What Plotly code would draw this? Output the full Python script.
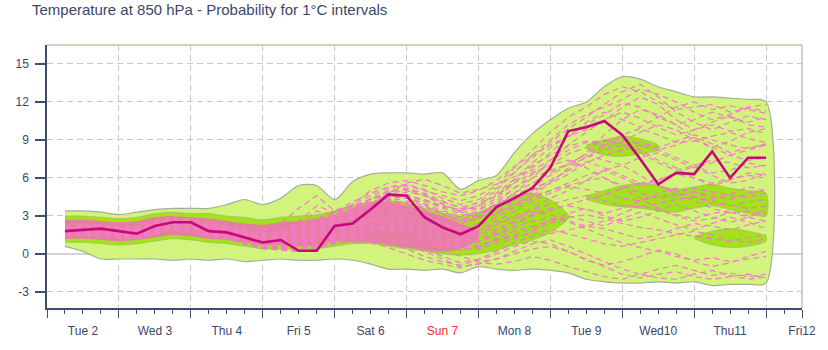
import plotly.graph_objects as go

TITLE = "Temperature at 850 hPa - Probability for 1°C intervals"

hours = [6, 12, 18, 24, 30, 36, 42, 48, 54, 60, 66, 72, 78, 84, 90, 96, 102, 108, 114, 120,
         126, 132, 138, 144, 150, 156, 162, 168, 174, 180, 186, 192, 198, 204, 210, 216, 222, 228, 234, 240]

main_run = [1.8, 1.9, 2.0, 1.8, 1.6, 2.2, 2.5, 2.5, 1.8, 1.7,
            1.3, 0.9, 1.1, 0.25, 0.25, 2.2, 2.4, 3.5, 4.7, 4.6,
            2.9, 2.1, 1.55, 2.2, 3.7, 4.4, 5.2, 6.8, 9.7, 10.0,
            10.5, 9.4, 7.5, 5.5, 6.4, 6.3, 8.1, 6.0, 7.6, 7.6]

env_upper = [3.4, 3.4, 3.3, 3.1, 3.3, 3.5, 3.6, 3.6, 3.6, 3.9,
             4.3, 3.9, 4.4, 5.4, 5.4, 4.3, 5.7, 6.3, 6.4, 6.4,
             6.3, 6.4, 5.1, 5.8, 6.2, 8.0, 9.5, 10.6, 11.5, 12.0,
             13.2, 14.0, 13.8, 13.2, 12.8, 12.4, 12.4, 12.3, 12.2, 12.0]
env_lower = [0.6, 0.2, -0.4, -0.4, -0.4, -0.4, -0.5, -0.4, -0.5, -0.4,
             -0.6, -0.5, -0.4, -0.5, -0.5, -0.4, -0.5, -0.8, -1.2, -1.2,
             -1.3, -1.2, -1.5, -1.0, -1.2, -1.3, -1.2, -1.3, -1.5, -2.0,
             -2.2, -2.3, -2.3, -2.2, -2.3, -2.2, -2.5, -2.4, -2.4, -2.3]

core_hours = [6, 12, 18, 24, 30, 36, 42, 48, 54, 60, 66, 72, 78, 84,
              90, 96, 102, 108, 114, 120, 126, 132, 138, 144, 150, 156, 162, 168, 174]
core_lower = [0.9, 0.9, 0.8, 0.7, 0.8, 1.0, 1.2, 1.1, 0.9, 0.8, 0.6, 0.4, 0.4, 0.3,
              0.4, 0.6, 0.8, 0.8, 0.6, 0.4, 0.2, 0.0, -0.1, 0.0, 0.3, 0.7, 1.1, 1.7, 2.8]
core_upper = [3.0, 3.0, 2.9, 2.8, 2.9, 3.2, 3.3, 3.2, 3.2, 3.0, 2.9, 2.7, 2.9, 3.0,
              3.1, 3.4, 3.8, 4.1, 4.2, 4.0, 3.6, 3.2, 3.0, 3.3, 3.9, 4.5, 4.8, 4.3, 3.1]

blob_b_hours = [180, 186, 192, 198, 204]
blob_b_lower = [8.3, 7.8, 7.7, 7.9, 8.2]
blob_b_upper = [8.6, 9.0, 9.3, 9.1, 8.6]

blob_c_hours = [180, 186, 192, 198, 204, 210, 216, 222, 228, 234, 240]
blob_c_lower = [4.3, 3.9, 3.7, 3.6, 3.4, 3.3, 3.6, 3.8, 3.5, 3.2, 3.0]
blob_c_upper = [4.6, 5.0, 5.4, 5.6, 5.4, 5.1, 5.3, 5.5, 5.2, 5.0, 4.8]

blob_d_hours = [216, 222, 228, 234, 240]
blob_d_lower = [1.2, 0.7, 0.5, 0.6, 1.0]
blob_d_upper = [1.4, 1.8, 2.0, 1.8, 1.4]

pink_hours = [6, 12, 18, 24, 30, 36, 42, 48, 54, 60, 66, 72,
              78, 84, 90, 96, 102, 108, 114, 120, 126, 132, 138, 144]
pink_lower = [1.2, 1.2, 1.1, 1.0, 1.1, 1.3, 1.5, 1.4, 1.2, 1.1, 0.9, 0.7,
              0.7, 0.6, 0.7, 1.0, 0.9, 0.9, 0.7, 0.5, 0.3, 0.2, 0.4, 1.2]
pink_upper = [2.7, 2.7, 2.6, 2.5, 2.6, 2.9, 3.0, 2.9, 2.8, 2.6, 2.4, 2.3,
              2.5, 2.6, 2.8, 3.0, 3.6, 4.0, 4.1, 3.8, 3.4, 3.0, 2.4, 1.8]

member_01 = [1.9, 2.0, 2.1, 1.9, 1.8, 2.3, 2.6, 2.7, 2.4, 2.2, 1.9, 1.6, 1.8, 2.2, 2.8, 3.3, 3.9, 4.6, 5.2, 5.4,
             5.0, 4.6, 4.2, 4.6, 5.4, 6.8, 8.2, 9.6, 10.8, 11.6, 12.6, 13.2, 12.8, 12.0, 11.4, 11.6, 11.8, 11.2, 11.5, 11.3]
member_02 = [1.7, 1.8, 1.8, 1.6, 1.5, 2.0, 2.3, 2.2, 1.8, 1.6, 1.2, 0.9, 1.0, 1.4, 2.0, 2.6, 3.2, 3.8, 4.4, 4.9,
             4.6, 3.9, 3.4, 3.8, 4.8, 5.9, 7.2, 8.4, 9.3, 9.8, 10.4, 11.6, 12.4, 11.8, 10.6, 9.8, 10.4, 10.9, 10.2, 10.0]
member_03 = [2.2, 2.3, 2.3, 2.1, 2.2, 2.6, 2.9, 2.8, 2.5, 2.4, 2.2, 1.9, 2.4, 3.6, 4.6, 3.4, 3.8, 4.0, 4.3, 4.6,
             4.2, 3.6, 3.2, 3.6, 4.4, 5.6, 6.4, 7.0, 7.9, 8.4, 8.9, 9.2, 8.6, 8.2, 8.6, 9.2, 8.7, 8.0, 8.4, 8.6]
member_04 = [1.5, 1.6, 1.6, 1.4, 1.4, 1.9, 2.1, 2.0, 1.7, 1.5, 1.1, 0.8, 0.7, 0.8, 1.2, 1.9, 2.6, 3.4, 3.9, 4.1,
             3.5, 2.8, 2.3, 2.9, 3.8, 4.6, 5.1, 5.8, 6.6, 7.7, 8.4, 8.8, 8.2, 7.4, 6.8, 6.0, 5.4, 5.8, 6.4, 6.2]
member_05 = [2.0, 2.1, 2.2, 2.0, 1.9, 2.4, 2.7, 2.6, 2.2, 2.0, 1.7, 1.3, 1.5, 1.9, 2.1, 2.6, 3.0, 3.3, 3.5, 3.6,
             3.1, 2.5, 2.0, 2.4, 3.2, 4.0, 4.6, 5.0, 5.4, 5.8, 6.0, 5.4, 4.8, 4.4, 4.6, 4.9, 4.6, 4.3, 4.8, 5.0]
member_06 = [1.6, 1.7, 1.7, 1.5, 1.4, 1.8, 2.0, 2.0, 1.6, 1.4, 1.0, 0.6, 0.5, 0.3, 0.4, 1.2, 2.0, 2.6, 3.0, 3.2,
             2.6, 1.9, 1.4, 1.8, 2.4, 3.0, 3.5, 3.9, 4.3, 4.6, 4.2, 3.8, 3.7, 4.0, 4.3, 4.5, 4.0, 3.8, 4.1, 4.3]
member_07 = [1.8, 1.9, 1.9, 1.7, 1.6, 2.1, 2.4, 2.4, 2.0, 1.8, 1.4, 1.1, 1.1, 1.2, 1.6, 2.2, 2.5, 2.8, 2.9, 2.8,
             2.3, 1.6, 1.0, 1.4, 2.0, 2.5, 3.1, 3.6, 3.8, 3.5, 3.2, 3.6, 4.2, 4.8, 5.2, 4.9, 4.4, 4.7, 5.3, 5.0]
member_08 = [1.4, 1.5, 1.4, 1.2, 1.2, 1.6, 1.9, 1.8, 1.4, 1.2, 0.8, 0.4, 0.3, 0.2, 0.5, 1.0, 1.5, 1.9, 2.1, 2.0,
             1.4, 0.8, 0.3, 0.6, 1.2, 1.8, 2.2, 2.6, 2.9, 3.1, 2.8, 2.4, 2.1, 1.9, 1.6, 1.4, 1.2, 1.0, 1.3, 1.5]
member_09 = [2.1, 2.2, 2.2, 2.0, 2.0, 2.5, 2.8, 2.8, 2.4, 2.2, 1.9, 1.6, 1.8, 2.0, 2.4, 3.0, 3.6, 4.4, 5.0, 5.2,
             4.8, 4.2, 3.6, 3.6, 3.8, 4.2, 4.9, 5.6, 6.3, 7.2, 7.8, 8.2, 8.6, 8.2, 7.6, 7.0, 6.4, 6.6, 7.2, 6.9]
member_10 = [1.7, 1.8, 1.9, 1.7, 1.6, 2.0, 2.3, 2.3, 1.9, 1.7, 1.3, 1.0, 0.9, 0.6, 0.8, 1.3, 1.7, 2.1, 2.3, 2.2,
             1.6, 0.9, 0.5, 0.7, 1.0, 1.4, 1.6, 1.9, 1.6, 1.2, 0.8, 0.6, 0.9, 1.2, 1.5, 1.8, 1.5, 1.1, 0.9, 1.2]
member_11 = [1.5, 1.6, 1.7, 1.5, 1.4, 1.8, 2.1, 2.1, 1.7, 1.5, 1.2, 0.8, 0.7, 0.6, 0.9, 1.4, 1.8, 2.0, 1.9, 1.6,
             1.0, 0.4, -0.2, -0.6, -0.4, 0.2, 0.8, 1.1, 0.6, 0.0, -0.6, -1.2, -1.6, -1.2, -0.9, -1.3, -1.7, -1.5, -1.8, -1.6]
member_12 = [1.9, 2.0, 2.0, 1.8, 1.8, 2.2, 2.5, 2.5, 2.1, 1.9, 1.6, 1.2, 1.3, 1.6, 2.0, 2.4, 2.8, 3.2, 3.6, 3.9,
             3.7, 3.3, 2.9, 3.2, 3.9, 4.6, 5.3, 6.2, 7.1, 7.9, 8.6, 9.4, 9.9, 9.4, 8.8, 8.9, 9.3, 9.6, 9.1, 8.8]
member_13 = [1.6, 1.7, 1.8, 1.6, 1.5, 1.9, 2.2, 2.1, 1.7, 1.6, 1.2, 0.9, 0.8, 0.9, 1.3, 1.9, 2.3, 2.6, 2.6, 2.4,
             1.8, 1.3, 0.9, 1.0, 1.6, 2.3, 3.0, 3.4, 3.9, 4.3, 4.7, 5.2, 5.6, 5.4, 5.0, 4.5, 4.2, 3.9, 3.6, 3.8]
member_14 = [2.0, 2.1, 2.1, 1.9, 1.8, 2.3, 2.6, 2.6, 2.2, 2.1, 1.8, 1.4, 1.6, 2.6, 3.8, 3.3, 3.9, 5.0, 5.6, 5.8,
             5.4, 4.9, 4.6, 5.0, 5.8, 6.9, 7.8, 8.6, 9.3, 10.2, 11.0, 11.9, 11.6, 10.8, 10.2, 10.6, 11.2, 10.8, 10.4, 10.8]
member_15 = [1.4, 1.5, 1.5, 1.3, 1.3, 1.7, 2.0, 1.9, 1.5, 1.3, 1.0, 0.6, 0.4, 0.4, 0.6, 1.1, 1.5, 1.6, 1.3, 0.9,
             0.4, -0.2, -0.7, -0.4, 0.2, 0.9, 1.4, 1.6, 1.9, 2.2, 2.0, 1.6, 1.2, 1.5, 2.0, 2.4, 2.2, 1.9, 2.3, 2.6]
member_16 = [1.8, 1.9, 2.0, 1.8, 1.7, 2.2, 2.5, 2.4, 2.0, 1.9, 1.5, 1.1, 1.2, 1.4, 1.8, 2.3, 2.9, 3.6, 4.2, 4.4,
             3.9, 3.2, 2.6, 2.8, 3.4, 4.2, 5.0, 5.8, 6.6, 7.3, 6.8, 6.2, 5.6, 5.9, 6.3, 6.0, 5.6, 5.9, 6.2, 6.0]
member_17 = [1.7, 1.8, 1.8, 1.6, 1.5, 2.0, 2.2, 2.2, 1.8, 1.7, 1.3, 1.0, 0.9, 1.0, 1.4, 1.8, 2.0, 2.1, 2.0, 1.8,
             1.3, 0.8, 0.3, 0.5, 1.1, 1.5, 2.0, 2.6, 3.2, 3.6, 3.0, 2.6, 2.9, 3.4, 3.1, 2.8, 3.2, 3.4, 3.0, 3.2]
member_18 = [1.9, 2.0, 2.1, 1.9, 1.9, 2.3, 2.6, 2.6, 2.3, 2.1, 1.7, 1.4, 1.5, 1.7, 2.1, 2.7, 3.4, 4.0, 4.3, 4.0,
             3.4, 2.8, 2.4, 2.8, 3.6, 4.8, 6.0, 7.4, 8.6, 9.6, 10.6, 11.2, 10.7, 10.0, 9.4, 9.8, 10.2, 9.7, 9.9, 9.5]
member_19 = [1.6, 1.7, 1.7, 1.5, 1.4, 1.9, 2.1, 2.1, 1.7, 1.5, 1.1, 0.8, 0.6, 0.5, 0.7, 1.2, 1.6, 2.0, 2.2, 2.1,
             1.6, 1.0, 0.6, 0.9, 1.5, 2.1, 2.6, 2.8, 2.5, 2.0, 1.4, 0.9, 0.5, 0.2, -0.2, -0.5, -0.3, -0.6, -0.4, -0.2]
member_20 = [2.1, 2.2, 2.3, 2.1, 2.0, 2.5, 2.8, 2.7, 2.3, 2.2, 1.9, 1.5, 1.7, 2.1, 2.6, 3.2, 3.8, 4.3, 4.6, 4.5,
             4.0, 3.4, 3.0, 3.4, 4.2, 5.2, 6.0, 6.6, 7.0, 7.6, 8.2, 8.6, 8.8, 8.4, 8.9, 9.4, 9.0, 8.6, 8.3, 8.7]
member_21 = [1.8, 1.9, 1.9, 1.7, 1.7, 2.1, 2.4, 2.3, 1.9, 1.8, 1.4, 1.1, 1.0, 1.1, 1.5, 2.0, 2.4, 2.7, 3.0, 3.0,
             2.5, 1.9, 1.5, 1.9, 2.6, 3.4, 4.2, 4.8, 5.3, 5.1, 4.8, 4.4, 4.2, 4.5, 4.8, 5.2, 4.9, 4.6, 4.5, 4.8]
member_22 = [1.5, 1.6, 1.6, 1.4, 1.4, 1.8, 2.0, 1.9, 1.6, 1.4, 1.0, 0.7, 0.5, 0.4, 0.6, 1.0, 1.3, 1.4, 1.2, 0.8,
             0.2, -0.4, -1.0, -0.8, -0.4, 0.0, 0.4, 0.6, 0.2, -0.4, -1.0, -1.6, -1.9, -1.6, -1.4, -1.8, -2.0, -1.8, -1.6, -1.9]
member_23 = [2.0, 2.1, 2.2, 2.0, 1.9, 2.4, 2.7, 2.7, 2.3, 2.1, 1.8, 1.5, 1.6, 2.3, 3.4, 3.0, 3.6, 3.9, 4.8, 5.6,
             5.9, 5.4, 4.8, 5.1, 5.5, 6.1, 6.6, 7.4, 8.2, 8.8, 9.0, 8.6, 8.0, 7.2, 6.6, 7.0, 7.4, 7.2, 6.8, 7.0]
member_24 = [1.7, 1.8, 1.8, 1.6, 1.6, 2.0, 2.3, 2.2, 1.8, 1.7, 1.3, 0.9, 0.8, 0.7, 1.0, 1.5, 1.9, 2.3, 2.5, 2.4,
             1.9, 1.2, 0.7, 1.1, 1.8, 2.6, 3.6, 4.4, 5.0, 5.8, 6.6, 7.0, 6.2, 5.4, 4.8, 4.2, 3.6, 3.2, 3.4, 3.1]
member_25 = [1.8, 1.9, 2.0, 1.8, 1.7, 2.1, 2.4, 2.4, 2.1, 1.9, 1.5, 1.2, 1.3, 1.6, 2.2, 2.8, 3.3, 3.9, 4.4, 4.6,
             4.3, 3.8, 3.5, 4.1, 5.0, 6.4, 7.8, 9.0, 10.2, 11.0, 11.6, 12.2, 13.0, 12.6, 12.0, 11.2, 10.6, 11.0, 11.6, 11.8]
member_26 = [1.7, 1.8, 1.9, 1.7, 1.6, 2.1, 2.4, 2.3, 1.9, 1.8, 1.4, 1.0, 1.2, 1.5, 1.9, 2.5, 3.0, 3.5, 3.8, 3.9,
             3.4, 2.9, 2.6, 3.0, 3.9, 4.8, 5.6, 6.4, 7.2, 7.8, 7.4, 7.0, 7.6, 8.0, 7.4, 6.8, 7.2, 7.8, 7.4, 7.6]
member_27 = [1.9, 2.0, 2.0, 1.8, 1.7, 2.2, 2.5, 2.5, 2.1, 2.0, 1.6, 1.3, 1.4, 1.7, 2.2, 2.8, 3.5, 4.3, 4.9, 5.1,
             4.7, 4.0, 3.3, 3.0, 3.2, 3.8, 4.6, 5.6, 6.8, 8.0, 9.4, 10.6, 11.4, 11.0, 10.2, 9.2, 8.4, 7.8, 8.2, 8.6]
member_28 = [1.5, 1.6, 1.6, 1.4, 1.3, 1.8, 2.0, 1.9, 1.5, 1.3, 0.9, 0.6, 0.5, 0.3, 0.5, 0.9, 1.2, 1.1, 0.8, 0.4,
             -0.2, -0.6, -0.9, -0.5, 0.0, 0.6, 1.0, 0.8, 0.2, -0.5, -0.9, -0.6, -0.2, 0.3, 0.0, -0.6, -1.0, -0.7, -0.2, 0.2]
member_29 = [2.0, 2.1, 2.1, 1.9, 1.8, 2.3, 2.6, 2.6, 2.2, 2.0, 1.7, 1.3, 1.4, 1.8, 2.3, 2.9, 3.3, 3.7, 4.0, 4.2,
             3.8, 3.1, 2.7, 3.1, 4.0, 5.2, 6.3, 7.0, 7.4, 6.8, 6.0, 5.2, 4.4, 3.6, 3.0, 2.6, 2.8, 3.3, 2.9, 2.6]
member_30 = [1.6, 1.7, 1.7, 1.5, 1.5, 1.9, 2.2, 2.1, 1.7, 1.6, 1.2, 0.9, 1.0, 1.1, 1.5, 2.0, 2.5, 3.0, 3.4, 3.5,
             3.0, 2.4, 1.9, 2.2, 2.9, 3.7, 4.4, 5.0, 5.6, 6.2, 6.6, 6.0, 5.4, 5.8, 6.4, 6.9, 6.2, 5.6, 5.8, 6.4]
member_31 = [1.8, 1.9, 1.9, 1.7, 1.6, 2.1, 2.3, 2.3, 1.9, 1.8, 1.4, 1.0, 1.0, 0.9, 1.2, 1.6, 1.9, 2.2, 2.3, 2.1,
             1.5, 0.9, 0.4, 0.4, 0.8, 1.2, 1.8, 2.4, 3.0, 2.6, 2.2, 2.8, 3.3, 2.8, 2.3, 1.9, 2.4, 2.9, 2.5, 2.0]
member_32 = [2.1, 2.2, 2.2, 2.0, 2.0, 2.4, 2.7, 2.7, 2.3, 2.2, 1.8, 1.5, 1.7, 2.0, 2.5, 3.1, 3.7, 4.3, 4.8, 5.0,
             4.6, 4.1, 3.7, 4.0, 4.6, 5.6, 6.8, 8.0, 9.2, 10.4, 11.2, 10.6, 10.0, 10.8, 11.6, 12.0, 11.4, 11.7, 11.4, 11.1]
member_33 = [1.4, 1.5, 1.5, 1.3, 1.2, 1.6, 1.9, 1.8, 1.4, 1.2, 0.8, 0.5, 0.3, 0.2, 0.4, 0.8, 1.0, 0.9, 0.5, 0.0,
             -0.5, -0.8, -1.1, -0.7, -0.8, -0.6, -0.2, -0.5, -1.0, -1.4, -1.8, -2.0, -1.6, -1.9, -2.0, -1.6, -1.3, -1.7, -2.0, -1.8]
member_34 = [1.9, 2.0, 2.1, 1.9, 1.8, 2.3, 2.5, 2.5, 2.2, 2.0, 1.6, 1.3, 1.4, 1.8, 2.4, 3.1, 3.6, 4.1, 4.5, 4.7,
             4.2, 3.7, 3.4, 3.8, 4.6, 5.8, 7.0, 7.8, 8.5, 8.9, 8.6, 8.9, 9.6, 10.2, 9.8, 9.0, 8.4, 8.9, 9.6, 9.9]
member_35 = [1.7, 1.8, 1.8, 1.6, 1.6, 2.0, 2.3, 2.2, 1.8, 1.7, 1.3, 1.0, 0.9, 1.0, 1.3, 1.8, 2.2, 2.5, 2.7, 2.6,
             2.1, 1.5, 1.2, 1.6, 2.3, 2.9, 3.3, 3.1, 2.6, 2.2, 2.6, 3.2, 3.8, 3.5, 3.9, 3.4, 2.9, 2.5, 2.9, 3.5]
member_36 = [2.0, 2.1, 2.2, 2.0, 1.9, 2.4, 2.7, 2.6, 2.3, 2.1, 1.8, 1.4, 1.6, 2.0, 2.6, 3.4, 4.1, 4.8, 5.3, 5.5,
             5.1, 4.4, 3.9, 4.3, 5.2, 6.5, 7.6, 8.8, 9.9, 10.8, 11.8, 12.8, 13.4, 12.4, 11.2, 10.4, 9.8, 10.4, 10.9, 10.6]

members = [member_01, member_02, member_03, member_04, member_05, member_06, member_07, member_08,
           member_09, member_10, member_11, member_12, member_13, member_14, member_15, member_16,
           member_17, member_18, member_19, member_20, member_21, member_22, member_23, member_24,
           member_25, member_26, member_27, member_28, member_29, member_30, member_31, member_32,
           member_33, member_34, member_35, member_36]

day_bounds = [0, 24, 48, 72, 96, 120, 144, 168, 192, 216, 240, 252]
day_centers = [12, 36, 60, 84, 108, 132, 156, 180, 204, 228, 252]
day_labels = ["Tue 2", "Wed 3", "Thu 4", "Fri 5", "Sat 6",
              '<span style="color:#ff2a2a">Sun 7</span>',
              "Mon 8", "Tue 9", "Wed10", "Thu11", "Fri12"]
y_ticks = [-3, 0, 3, 6, 9, 12, 15]
y_tick_text = ["-3", "0", "3", "6", "9", "12", "15"]

LIGHT_GREEN = "#d2f47c"
DARK_GREEN = "#a3e01e"
PINK_FILL = "rgba(242,108,184,0.85)"
PINK_DASH = "#f27cc0"
MAIN = "#c8077a"
AX = "#3e4c70"
TXT = "#3a476c"
GRID = "#c8c8c8"
FONT = "Liberation Sans, Arial, sans-serif"


def polygon(xs, lo, hi):
    return list(xs) + list(xs)[::-1], list(hi) + list(lo)[::-1]


fig = go.Figure()

px_, py_ = polygon(hours, env_lower, env_upper)
fig.add_trace(go.Scatter(x=px_, y=py_, fill="toself", fillcolor=LIGHT_GREEN, mode="lines",
                         line=dict(color="#a4ad9c", width=1.2, shape="spline", smoothing=0.8),
                         hoverinfo="skip", showlegend=False))

for bx, bl, bu in [(core_hours, core_lower, core_upper),
                   (blob_b_hours, blob_b_lower, blob_b_upper),
                   (blob_c_hours, blob_c_lower, blob_c_upper),
                   (blob_d_hours, blob_d_lower, blob_d_upper)]:
    qx, qy = polygon(bx, bl, bu)
    fig.add_trace(go.Scatter(x=qx, y=qy, fill="toself", fillcolor=DARK_GREEN, mode="lines",
                             line=dict(color="rgba(150,170,120,0.6)", width=0.8, shape="spline", smoothing=0.8),
                             hoverinfo="skip", showlegend=False))

qx, qy = polygon(pink_hours, pink_lower, pink_upper)
fig.add_trace(go.Scatter(x=qx, y=qy, fill="toself", fillcolor=PINK_FILL, mode="lines",
                         line=dict(color="rgba(0,0,0,0)", width=0, shape="spline", smoothing=0.8),
                         hoverinfo="skip", showlegend=False))

for m in members:
    fig.add_trace(go.Scatter(x=hours, y=m, mode="lines",
                             line=dict(color=PINK_DASH, width=1.2, dash="6px,4px"),
                             hoverinfo="skip", showlegend=False))

fig.add_trace(go.Scatter(x=hours, y=main_run, mode="lines",
                         line=dict(color=MAIN, width=2.6),
                         hoverinfo="skip", showlegend=False))

fig.add_trace(go.Scatter(x=[None], y=[None], xaxis="x2", yaxis="y", mode="lines",
                         hoverinfo="skip", showlegend=False))

fig.update_layout(
    width=828, height=350,
    margin=dict(l=47, r=22, t=45, b=41),
    paper_bgcolor="white", plot_bgcolor="white",
    font=dict(family=FONT, size=12, color=TXT),
    title=dict(text=TITLE, x=32 / 828, xanchor="left", y=1 - 10 / 350, yanchor="middle",
               font=dict(family=FONT, size=15, color=TXT)),
    xaxis=dict(range=[0, 252], tickmode="array", tickvals=day_bounds,
               ticktext=[""] * len(day_bounds), ticks="outside", ticklen=8, tickwidth=1,
               tickcolor=AX, showline=True, linecolor=AX, linewidth=1.5,
               showgrid=True, gridcolor=GRID, griddash="6px,4px", gridwidth=1, zeroline=False,
               minor=dict(tickmode="linear", tick0=0, dtick=6, ticks="outside", ticklen=4,
                          tickcolor=AX, tickwidth=1, showgrid=False)),
    xaxis2=dict(overlaying="x", anchor="y", side="bottom", range=[0, 252], tickmode="array",
                tickvals=day_centers, ticktext=day_labels, ticks="outside", ticklen=12,
                tickcolor="rgba(0,0,0,0)", showline=False, showgrid=False, zeroline=False,
                tickfont=dict(family=FONT, size=12, color=TXT)),
    yaxis=dict(range=[-4.27, 16.5], tickmode="array", tickvals=y_ticks, ticktext=y_tick_text,
               ticks="outside", ticklen=10, tickwidth=1.5, tickcolor=AX, ticklabelstandoff=4,
               showline=True, linecolor=AX, linewidth=1.5,
               showgrid=True, gridcolor=GRID, griddash="6px,4px", gridwidth=1,
               zeroline=True, zerolinecolor="#d4d4d4", zerolinewidth=1.5,
               tickfont=dict(family=FONT, size=12, color=TXT)),
    shapes=[
        dict(type="line", xref="paper", yref="paper", x0=0, x1=1, y0=1, y1=1,
             line=dict(color="#c8bdb0", width=1.5), layer="above"),
        dict(type="line", xref="paper", yref="paper", x0=1, x1=1, y0=0, y1=1,
             line=dict(color="#c8bdb0", width=1.5), layer="above"),
    ],
)

fig.write_html("out.html")
